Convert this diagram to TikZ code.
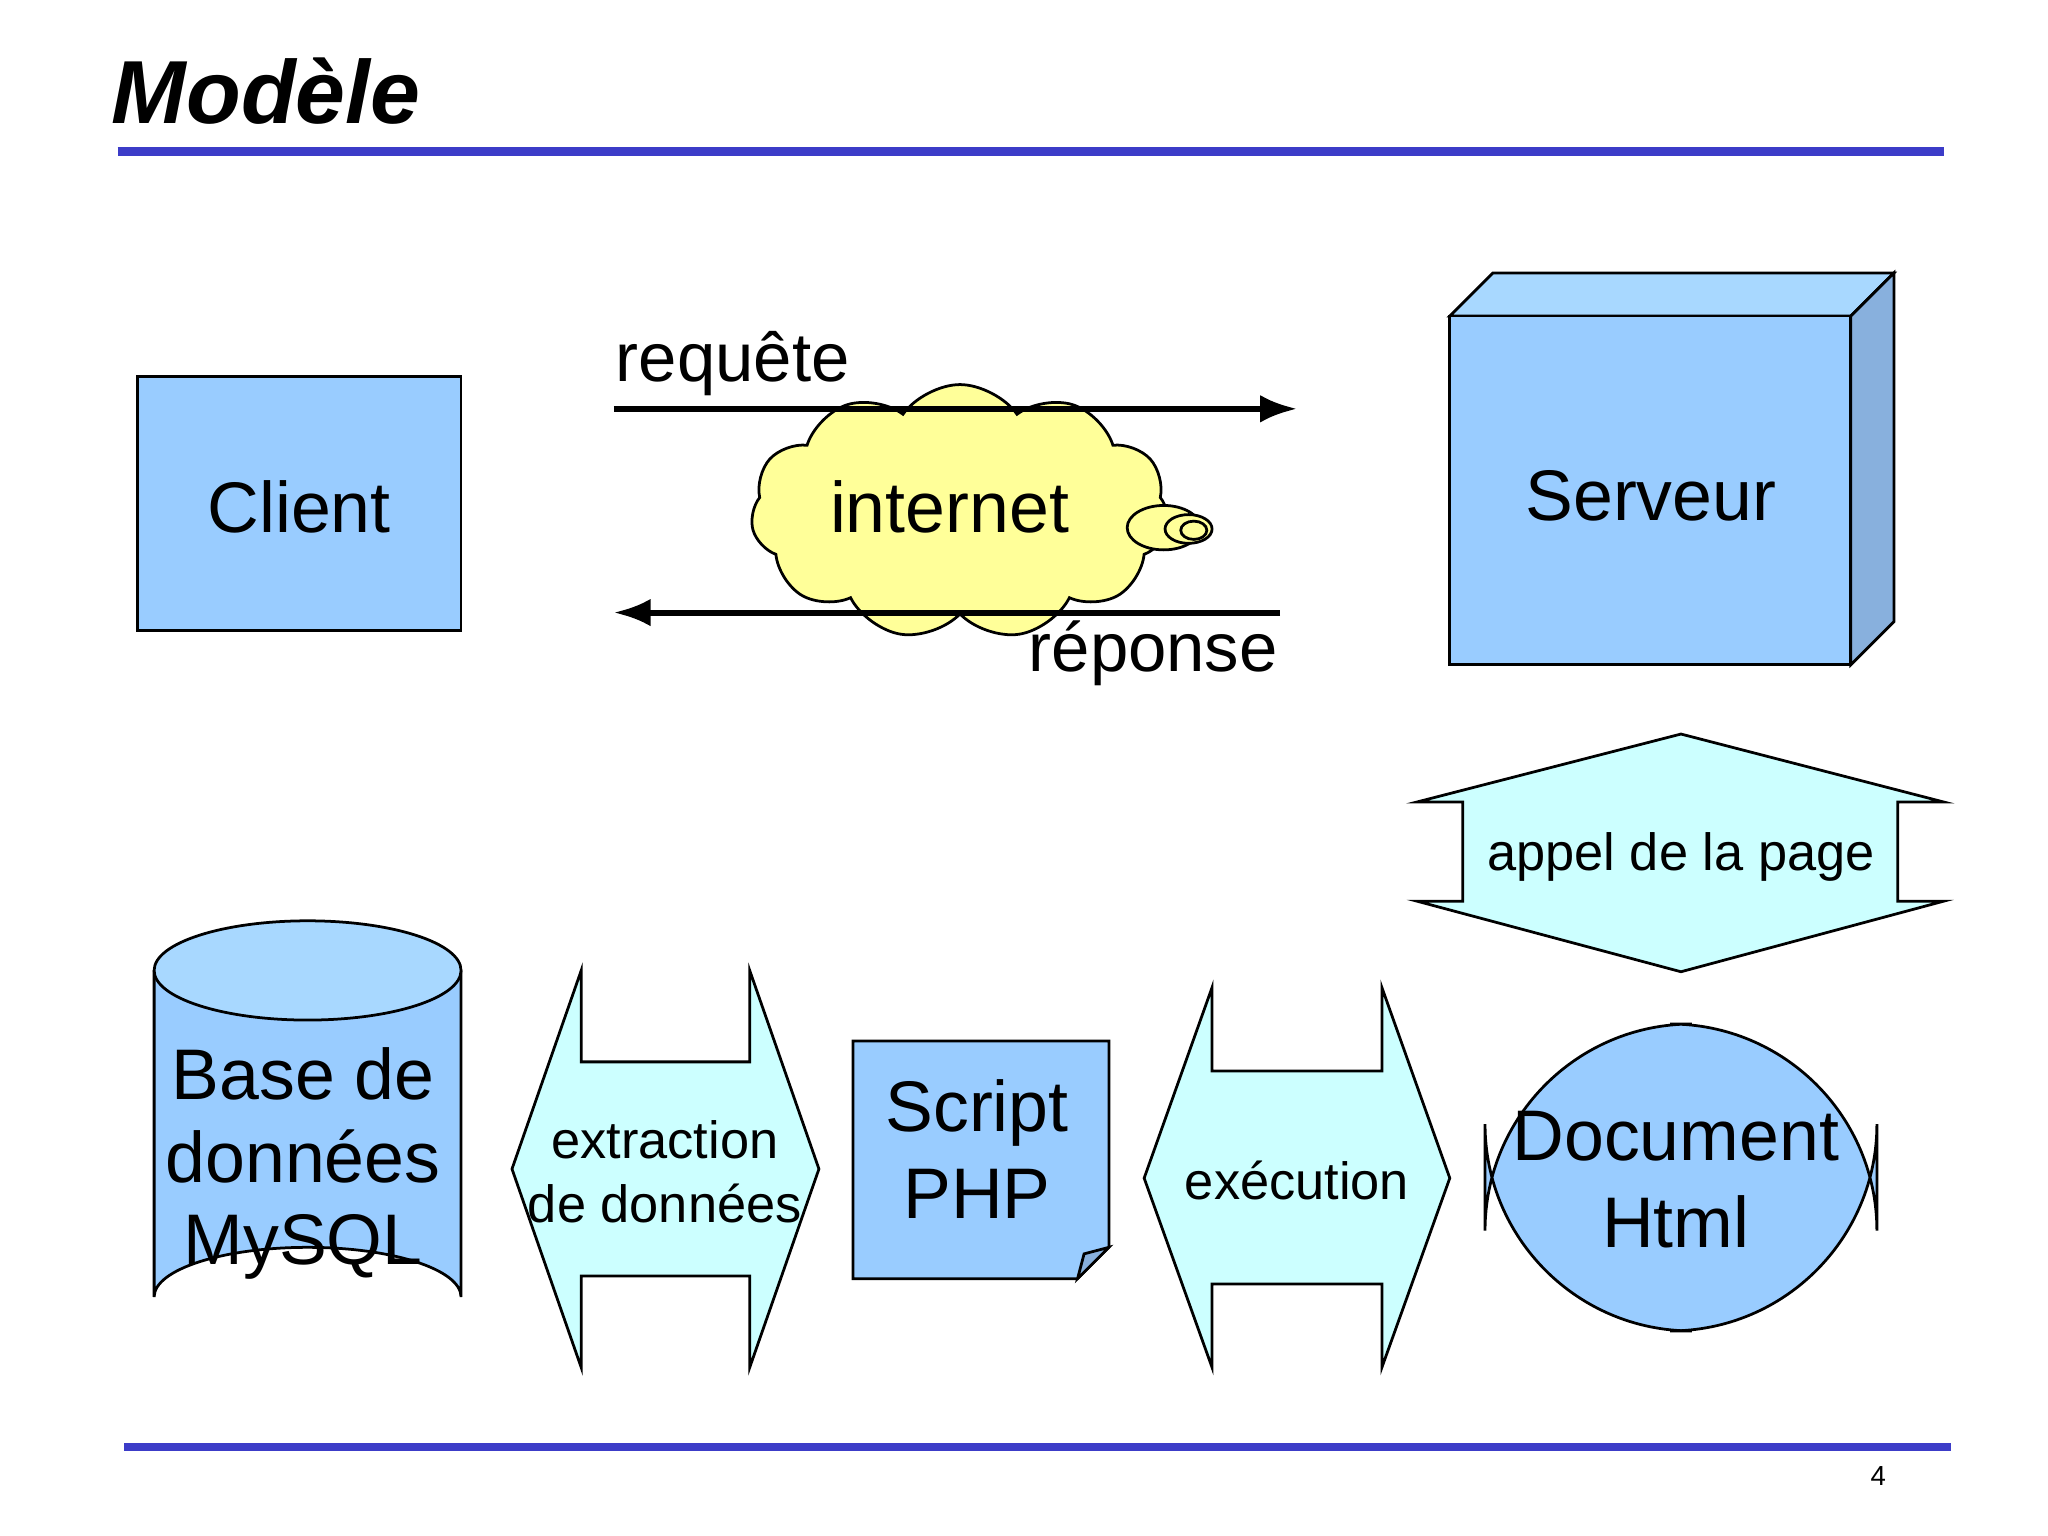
\documentclass[tikz,border=0pt]{standalone}
\usepackage{fontspec}
\setmainfont{Liberation Sans}
\usetikzlibrary{shapes.symbols,shapes.geometric,arrows.meta}
\definecolor{boxblue}{HTML}{99CCFF}
\definecolor{sideblue}{HTML}{88B0DD}
\definecolor{topblue}{HTML}{A8D8FF}
\definecolor{lcyan}{HTML}{CCFFFF}
\definecolor{cloudy}{HTML}{FFFF99}
\definecolor{rule}{RGB}{60,60,200}
\tikzset{
  box/.style={draw=black,fill=boxblue,line width=0.6pt},
  arr/.style={draw=black,fill=lcyan,line width=0.6pt},
  big/.style={font=\fontsize{15.6}{19}\selectfont,align=center},
  small/.style={font=\fontsize{11.4}{14}\selectfont,align=center},
  flow/.style={line width=1.3pt,-{Latex[length=8pt,width=6pt]}}
}
\begin{document}
\begin{tikzpicture}[x=0.01cm,y=-0.01cm]
\useasboundingbox (0,0) rectangle (1568,1176);
\fill[white] (0,0) rectangle (1568,1176);
% title and rules
\node[anchor=south west,inner sep=0,font=\fontsize{19.5}{22}\selectfont\bfseries\itshape] (title) at (85,96) {Modèle};
\draw[rule,line width=1.8pt] (90,116) -- (1488,116);
\draw[rule,line width=1.8pt] (95,1108) -- (1494,1108);
\node[font=\fontsize{6}{7}\selectfont] (pg) at (1438,1130) {4};
% client
\draw[box] (105,288) rectangle (353,483);
\node[big] (client) at (229,388) {Client};
% cloud
\node[cloud,cloud puffs=11,cloud puff arc=110,aspect=1.6,draw,fill=cloudy,line width=0.6pt,minimum width=3.2cm,minimum height=1.95cm,inner sep=0] (cloud) at (735,392) {};
\draw[fill=cloudy,line width=0.6pt] (891,404) ellipse (28 and 17);
\draw[fill=cloudy,line width=0.6pt] (910,405) ellipse (18 and 11);
\draw[fill=cloudy,line width=0.6pt] (914,406) ellipse (10 and 7);
\node[big] (internet) at (727,388) {internet};
% arrows
\coordinate (rq1) at (470,313); \coordinate (rq2) at (993,313);
\coordinate (rp1) at (980,469); \coordinate (rp2) at (470,469);
\draw[flow] (rq1) -- (rq2);
\draw[flow] (rp1) -- (rp2);
\node[big,font=\fontsize{15}{18}\selectfont] (req) at (561,278) {requête};
\node[big,font=\fontsize{15}{18}\selectfont] (rep) at (883,500) {réponse};
% server cube
\draw[fill=topblue,line width=0.6pt] (1110,242) -- (1143,209) -- (1450,209) -- (1417,242) -- cycle;
\draw[fill=sideblue,line width=0.6pt] (1417,242) -- (1450,209) -- (1450,476) -- (1417,509) -- cycle;
\draw[box] (1110,242) rectangle (1417,509);
\node[big] (serveur) at (1264,380) {Serveur};
% appel de la page
\draw[arr] (1287,562) -- (1488,614) -- (1453,614) -- (1453,690) -- (1488,690) -- (1287,744)
  -- (1085,690) -- (1120,690) -- (1120,614) -- (1085,614) -- cycle;
\node[small] (appel) at (1287,656) {appel de la page};
% cylinder
\draw[box] (118,743) -- (118,993) arc[start angle=180,end angle=360,x radius=117.5,y radius=38] -- (353,743);
\draw[draw=black,fill=topblue,line width=0.6pt] (235.5,743) ellipse (117.5 and 38);
\node[big,font=\fontsize{15.6}{18}\selectfont] (db) at (232,891) {Base de\\données\\MySQL};
% extraction arrow
\draw[arr] (392,895) -- (445,743) -- (445,813) -- (574,813) -- (574,743) -- (627,895)
  -- (574,1047) -- (574,977) -- (445,977) -- (445,1047) -- cycle;
\node[small] (extr) at (509,897) {extraction\\de données};
% script php
\draw[box] (653,797) -- (849,797) -- (849,955) -- (825,979) -- (653,979) -- cycle;
\draw[fill=sideblue,line width=0.6pt] (825,979) -- (830,960) -- (849,955) -- cycle;
\node[big] (php) at (748,880) {Script\\PHP};
% execution arrow
\draw[arr] (876,902) -- (928,756) -- (928,820) -- (1058,820) -- (1058,756) -- (1110,902)
  -- (1058,1047) -- (1058,983) -- (928,983) -- (928,1047) -- cycle;
\node[small] (exe) at (993,904) {exécution};
% document html
\draw[box,rounded corners=45] (1137,784) rectangle (1437,1019);
\node[big] (doc) at (1283,903) {Document\\Html};
\end{tikzpicture}
\end{document}
